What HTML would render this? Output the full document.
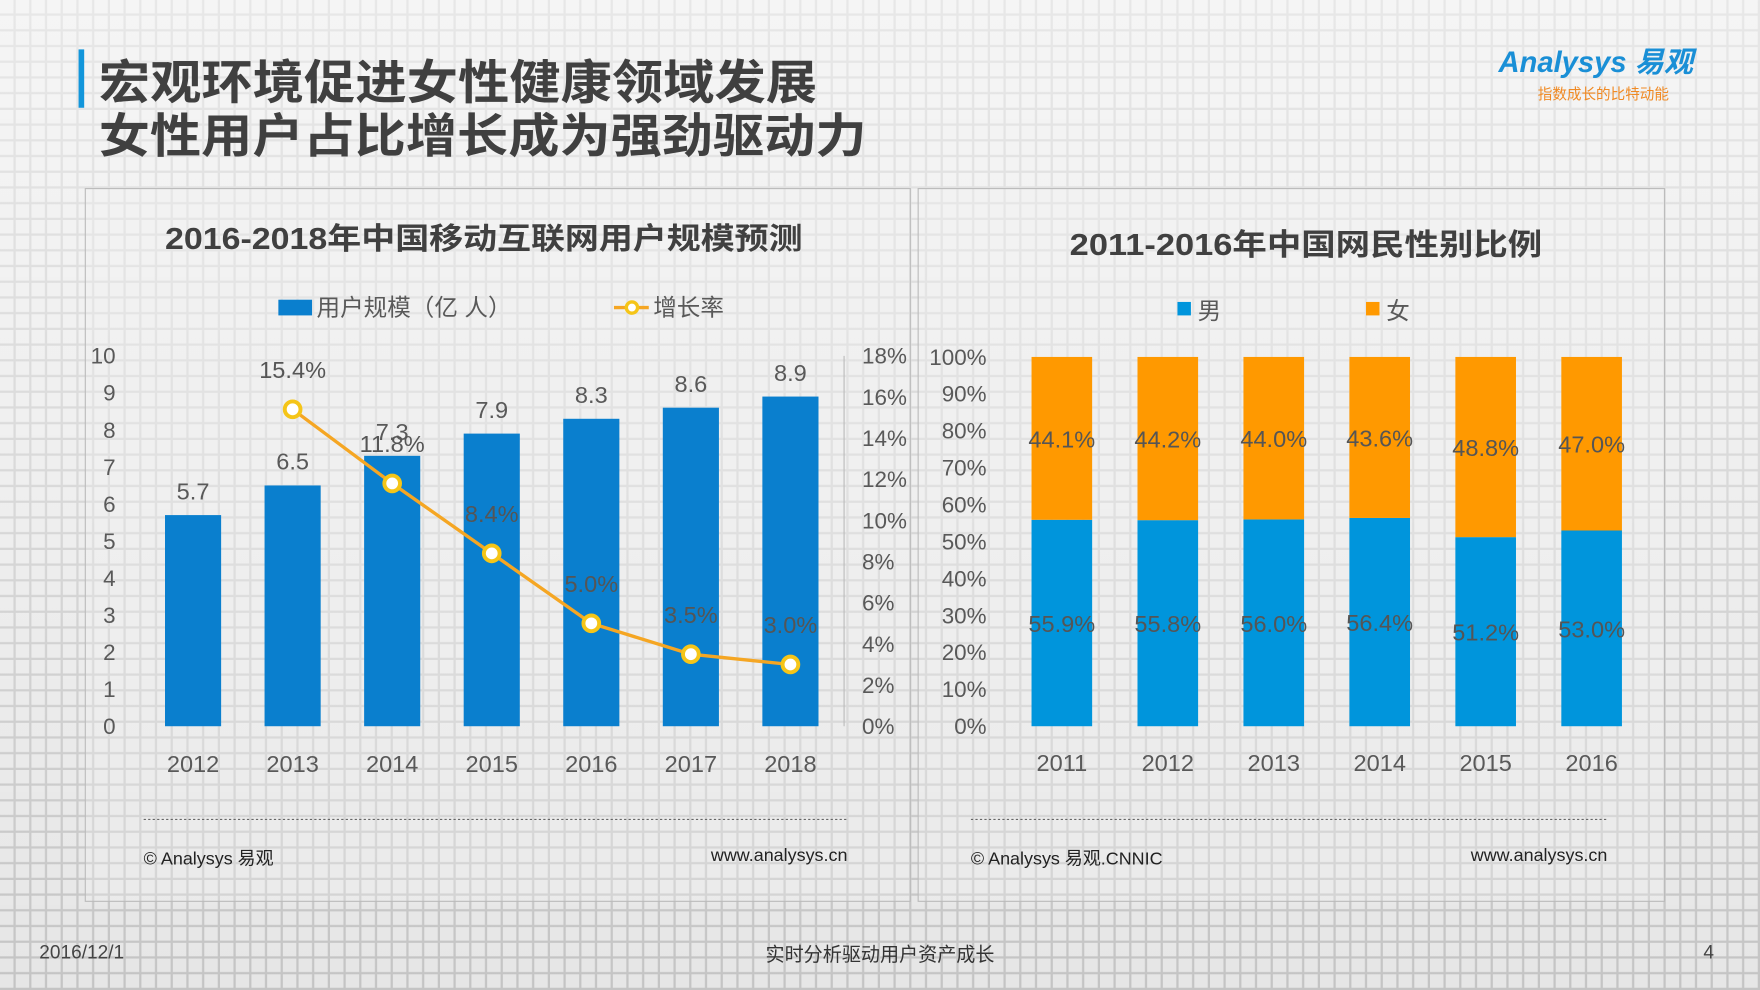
<!DOCTYPE html>
<html><head><meta charset="utf-8"><style>
html,body{margin:0;padding:0;background:#e0e0e0}
svg{display:block}
text{font-family:"Liberation Sans","Noto Sans CJK SC",sans-serif}
</style></head><body>
<svg width="1760" height="990" viewBox="0 0 1568 882" xmlns="http://www.w3.org/2000/svg">
<defs>
<pattern id="grid" width="14" height="14" patternUnits="userSpaceOnUse">
<rect width="14" height="14" fill="#c4c4c4"/>
<rect x="0" y="0" width="12" height="12" fill="#e6e6e6"/>
</pattern>
<linearGradient id="fade" x1="0" y1="0" x2="0" y2="1">
<stop offset="0" stop-color="#fff" stop-opacity="0.6"/>
<stop offset="0.5" stop-color="#fff" stop-opacity="0.35"/>
<stop offset="1" stop-color="#fff" stop-opacity="0"/>
</linearGradient>
</defs>
<rect width="1568" height="882" fill="url(#grid)"/>
<rect width="1568" height="882" fill="url(#fade)"/>
<rect x="70" y="44" width="5" height="52" fill="#1296db"/>
<text x="88" y="88" font-size="42" font-weight="bold" fill="#404040" textLength="640" lengthAdjust="spacingAndGlyphs">宏观环境促进女性健康领域发展</text>
<text x="88" y="136" font-size="42" font-weight="bold" fill="#404040" textLength="684" lengthAdjust="spacingAndGlyphs">女性用户占比增长成为强劲驱动力</text>
<text x="1335" y="64" font-size="26" font-style="italic" font-weight="bold" fill="#1a8fd6">Analysys 易观</text>
<text x="1370" y="88" font-size="13" fill="#f08a24">指数成长的比特动能</text>
<rect x="76" y="168" width="735" height="635" fill="#f2f2f2" fill-opacity="0.3" stroke="#bbb"/>
<rect x="818" y="168" width="665" height="635" fill="#f2f2f2" fill-opacity="0.3" stroke="#bbb"/>
<text x="147" y="222" font-size="27" font-weight="bold" fill="#404040" textLength="568" lengthAdjust="spacingAndGlyphs">2016-2018年中国移动互联网用户规模预测</text>
<text x="953" y="227" font-size="27" font-weight="bold" fill="#404040" textLength="421" lengthAdjust="spacingAndGlyphs">2011-2016年中国网民性别比例</text>
<g>
<rect x="248" y="267" width="30" height="14" fill="#0a7fce"/>
<text x="282" y="281" font-size="21" fill="#595959">用户规模（亿 人）</text>
<line x1="547" y1="274" x2="578" y2="274" stroke="#f5a623" stroke-width="3"/>
<circle cx="563" cy="274" r="5" fill="#fff" stroke="#f5c518" stroke-width="3"/>
<text x="582" y="281" font-size="21" fill="#595959">增长率</text>
</g>
<g>
<rect x="1049" y="269" width="12" height="12" fill="#0095dc"/>
<text x="1067" y="284" font-size="21" fill="#595959">男</text>
<rect x="1217" y="269" width="12" height="12" fill="#ff9900"/>
<text x="1235" y="284" font-size="21" fill="#595959">女</text>
</g>
<g id="left"></g>
<g id="right"></g>
<line x1="128" y1="730" x2="755" y2="730" stroke="#666" stroke-dasharray="2,2"/>
<line x1="865" y1="730" x2="1432" y2="730" stroke="#666" stroke-dasharray="2,2"/>
<text x="128" y="770" font-size="16" fill="#222">© Analysys 易观</text>
<text x="755" y="767" font-size="16" fill="#222" text-anchor="end">www.analysys.cn</text>
<text x="865" y="770" font-size="16" fill="#222">© Analysys 易观.CNNIC</text>
<text x="1432" y="767" font-size="16" fill="#222" text-anchor="end">www.analysys.cn</text>
<text x="35" y="854" font-size="17" fill="#444">2016/12/1</text>
<text x="784" y="856" font-size="17" fill="#333" text-anchor="middle">实时分析驱动用户资产成长</text>
<text x="1527" y="854" font-size="17" fill="#444" text-anchor="end">4</text>
</svg>
<script>
const years1=["2012","2013","2014","2015","2016","2017","2018"];
const users=[5.7,6.5,7.3,7.9,8.3,8.6,8.9];
const growth=[null,15.4,11.8,8.4,5.0,3.5,3.0];
const yTicksL=[0,1,2,3,4,5,6,7,8,9,10];
const yTicksR=[0,2,4,6,8,10,12,14,16,18];
const years2=["2011","2012","2013","2014","2015","2016"];
const male=[55.9,55.8,56.0,56.4,51.2,53.0];
const female=[44.1,44.2,44.0,43.6,48.8,47.0];
const pctTicks=[0,10,20,30,40,50,60,70,80,90,100];
const NS="http://www.w3.org/2000/svg";
function mk(p,t,a,txt){const e=document.createElementNS(NS,t);for(const k in a)e.setAttribute(k,a[k]);if(txt!=null)e.textContent=txt;p.appendChild(e);return e;}
const y0=647,y1=317;
const yL=v=>y0-(v/10)*(y0-y1);
const yR=v=>y0-(v/18)*(y0-y1);
const xL=i=>172+i*88.7;
const L=document.getElementById('left');
yTicksL.forEach(t=>{const e=mk(L,'text',{x:103,y:yL(t)+7,'font-size':20,fill:'#595959','text-anchor':'end'},t);

});
yTicksR.forEach(t=>{const e=mk(L,'text',{x:768,y:yR(t)+7,'font-size':20,fill:'#595959'},t+'%');

});
mk(L,'line',{x1:752,y1:y1,x2:752,y2:y0,stroke:'#bbb'});
users.forEach((v,i)=>{const r=mk(L,'rect',{x:xL(i)-25,y:yL(v),width:50,height:y0-yL(v),fill:'#0a7fce'});


const t=mk(L,'text',{x:xL(i),y:yL(v)-14,'font-size':21,fill:'#595959','text-anchor':'middle'},v.toFixed(1));


const x=mk(L,'text',{x:xL(i),y:688,'font-size':21,fill:'#595959','text-anchor':'middle'},years1[i]);

});
const pts=growth.map((g,i)=>g==null?null:[xL(i),yR(g)]).filter(p=>p);
const pl=mk(L,'polyline',{points:pts.map(p=>p.join(',')).join(' '),fill:'none',stroke:'#f5a623','stroke-width':3});


growth.forEach((g,i)=>{if(g==null)return;
const c=mk(L,'circle',{cx:xL(i),cy:yR(g),r:7,fill:'#fff',stroke:'#f5c518','stroke-width':3.5});


const t=mk(L,'text',{x:xL(i),y:yR(g)-28,'font-size':21,fill:'#555','text-anchor':'middle'},g.toFixed(1)+'%');

});
const R=document.getElementById('right');
const yP=v=>y0-(v/100)*(y0-318);
const xR=i=>946+i*94.4;
pctTicks.forEach(t=>{const e=mk(R,'text',{x:879,y:yP(t)+7,'font-size':20,fill:'#595959','text-anchor':'end'},t+'%');

});
male.forEach((m,i)=>{const f=female[i];
const b=mk(R,'rect',{x:xR(i)-27,y:yP(m),width:54,height:y0-yP(m),fill:'#0095dc'});


const o=mk(R,'rect',{x:xR(i)-27,y:yP(m+f),width:54,height:yP(m)-yP(m+f),fill:'#ff9900'});


const tm=mk(R,'text',{x:xR(i),y:(yP(m)+y0)/2+8,'font-size':21,fill:'#555','text-anchor':'middle'},m.toFixed(1)+'%');


const tf=mk(R,'text',{x:xR(i),y:(yP(m)+yP(m+f))/2+8,'font-size':21,fill:'#555','text-anchor':'middle'},f.toFixed(1)+'%');


const x=mk(R,'text',{x:xR(i),y:687,'font-size':21,fill:'#595959','text-anchor':'middle'},years2[i]);

});
</script>
</body></html>
